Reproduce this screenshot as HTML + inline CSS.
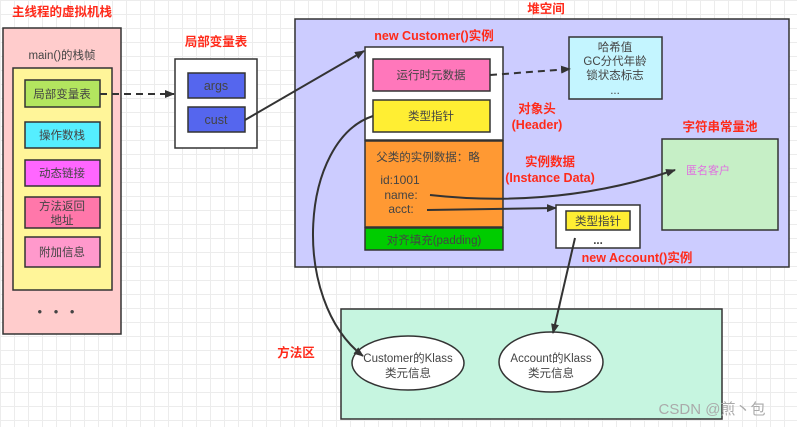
<!DOCTYPE html>
<html><head><meta charset="utf-8"><style>
html,body{margin:0;padding:0;}
body{width:797px;height:427px;overflow:hidden;background-color:#fff;
background-image:linear-gradient(#ececec 1px,transparent 1px),linear-gradient(90deg,#ececec 1px,transparent 1px);background-size:14px 14px;}
svg{position:absolute;left:0;top:0;}
text{font-family:"Liberation Sans","Noto Sans CJK SC",sans-serif;}
.t{font-size:11.5px;fill:#444;text-anchor:middle;}
.r{font-size:12.5px;fill:#ff2a1a;font-weight:bold;text-anchor:middle;}
</style></head><body>
<svg width="797" height="427" viewBox="0 0 797 427">
<defs><marker id="a" markerWidth="10" markerHeight="8" refX="9" refY="4" orient="auto" markerUnits="userSpaceOnUse"><path d="M0,0 L10,4 L0,8 z" fill="#333"/></marker></defs>
<g stroke="#333" stroke-width="1.5">
<rect x="3" y="28" width="118" height="306" fill="#ffcccc"/>
<rect x="13" y="68" width="99" height="222" fill="#fff599"/>
<rect x="25" y="80" width="75" height="27" fill="#b3e55f"/>
<rect x="25" y="122" width="75" height="26" fill="#55eeff"/>
<rect x="25" y="160" width="75" height="26" fill="#ff66ff"/>
<rect x="25" y="197" width="75" height="31" fill="#ff77aa"/>
<rect x="25" y="237" width="75" height="30" fill="#ff99cc"/>
<rect x="175" y="59" width="82" height="89" fill="#fff"/>
<rect x="188" y="73" width="57" height="25" fill="#5566ee"/>
<rect x="188" y="107" width="57" height="25" fill="#5566ee"/>
<rect x="295" y="19" width="494" height="248" fill="#ccccff"/>
<rect x="365" y="47" width="138" height="93" fill="#fff"/>
<rect x="373" y="59" width="117" height="32" fill="#ff77bb"/>
<rect x="373" y="100" width="117" height="32" fill="#ffee33"/>
<rect x="365" y="141" width="138" height="86" fill="#ff9933"/>
<rect x="365" y="228" width="138" height="22" fill="#00cc00"/>
<rect x="569" y="37" width="93" height="62" fill="#c4f5ff"/>
<rect x="662" y="139" width="116" height="91" fill="#c6efc6"/>
<rect x="556" y="205" width="84" height="43" fill="#fff"/>
<rect x="566" y="211" width="64" height="19" fill="#ffee33"/>
<rect x="341" y="309" width="381" height="110" fill="#c6f5e0"/>
<ellipse cx="408" cy="363" rx="56" ry="27" fill="#fff"/>
<ellipse cx="551" cy="362" rx="52" ry="30" fill="#fff"/>
</g>
<g stroke="#333" stroke-width="2" fill="none" marker-end="url(#a)">
<path d="M100,94 L174,94" stroke-dasharray="7,5"/>
<path d="M490,75 L570,69" stroke-dasharray="7,5"/>
<path d="M245,120 L364,51"/>
<path d="M373,116 C300,140 290,300 363,356"/>
<path d="M430,195 C520,205 600,195 675,170"/>
<path d="M427,210 L556,208"/>
<path d="M575,238 L553,333"/>
</g>
<text class="r" x="62" y="16">主线程的虚拟机栈</text>
<text class="t" x="62" y="59">main()的栈帧</text>
<text class="t" x="62" y="98">局部变量表</text>
<text class="t" x="62" y="139">操作数栈</text>
<text class="t" x="62" y="177">动态链接</text>
<text class="t" x="62" y="210">方法返回</text>
<text class="t" x="62" y="224">地址</text>
<text class="t" x="62" y="256">附加信息</text>
<text class="t" x="58" y="316" style="font-size:13px;letter-spacing:4px">• • •</text>
<text class="r" x="216" y="46">局部变量表</text>
<text class="t" x="216" y="90" style="font-size:12.5px">args</text>
<text class="t" x="216" y="124" style="font-size:12.5px">cust</text>
<text class="r" x="546" y="13">堆空间</text>
<text class="r" x="434" y="40">new Customer()实例</text>
<text class="t" x="431" y="79">运行时元数据</text>
<text class="t" x="431" y="120">类型指针</text>
<text class="t" x="428" y="161">父类的实例数据：略</text>
<text class="t" x="400" y="184" style="font-size:12px">id:1001</text>
<text class="t" x="401" y="199" style="font-size:12px">name:</text>
<text class="t" x="401" y="213" style="font-size:12px">acct:</text>
<text class="t" x="434" y="244">对齐填充(padding)</text>
<text class="t" x="615" y="51">哈希值</text>
<text class="t" x="615" y="65">GC分代年龄</text>
<text class="t" x="615" y="79">锁状态标志</text>
<text class="t" x="615" y="94">...</text>
<text class="r" x="537" y="113">对象头</text>
<text class="r" x="537" y="129">(Header)</text>
<text class="r" x="550" y="166">实例数据</text>
<text class="r" x="550" y="182">(Instance Data)</text>
<text class="r" x="720" y="131">字符串常量池</text>
<text x="708" y="174" style="font-size:11px;fill:#e070e0;text-anchor:middle">匿名客户</text>
<text class="t" x="598" y="225">类型指针</text>
<text class="t" x="598" y="244" style="font-weight:bold">...</text>
<text class="r" x="637" y="262">new Account()实例</text>
<text class="r" x="296" y="357">方法区</text>
<text class="t" x="408" y="362">Customer的Klass</text>
<text class="t" x="408" y="377">类元信息</text>
<text class="t" x="551" y="362">Account的Klass</text>
<text class="t" x="551" y="377">类元信息</text>
<text x="712" y="414" style="font-size:15px;fill:#aaa;text-anchor:middle">CSDN @煎丶包</text>
</svg>
</body></html>
